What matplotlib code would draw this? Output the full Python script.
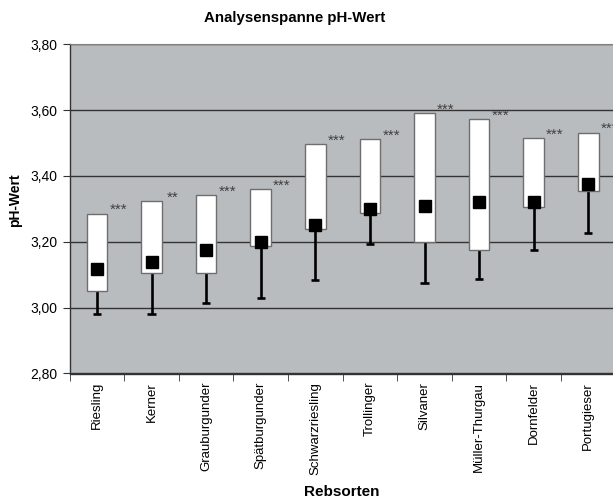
import matplotlib
matplotlib.use("Agg")
import matplotlib.pyplot as plt
from matplotlib.ticker import FixedLocator, FuncFormatter

plt.rcParams['font.family'] = ['Liberation Sans', 'DejaVu Sans']

categories = ["Riesling", "Kerner", "Grauburgunder", "Spätburgunder", "Schwarzriesling",
              "Trollinger", "Silvaner", "Müller-Thurgau", "Dornfelder", "Portugieser"]
box_high = [3.286, 3.325, 3.342, 3.361, 3.497, 3.512, 3.591, 3.572, 3.514, 3.532]
box_low = [3.051, 3.106, 3.104, 3.186, 3.240, 3.289, 3.198, 3.174, 3.307, 3.354]
mean_val = [3.117, 3.138, 3.175, 3.198, 3.250, 3.301, 3.308, 3.322, 3.322, 3.375]
min_val = [2.981, 2.981, 3.015, 3.030, 3.084, 3.192, 3.076, 3.086, 3.176, 3.227]
signif = ["***", "**", "***", "***", "***", "***", "***", "***", "***", "***"]
y_ticks = [2.80, 3.00, 3.20, 3.40, 3.60, 3.80]

fig = plt.figure(figsize=(6.13, 5.0), dpi=100)
ax = fig.add_axes([69.6 / 613, (500 - 373.5) / 500, 546 / 613, (373.5 - 44.3) / 500])
ax.set_facecolor('#B9BCBF')

x = [i + 0.5 for i in range(len(categories))]
heights = [h - l for h, l in zip(box_high, box_low)]

ax.vlines(x, min_val, box_low, color='black', lw=1.9, zorder=2)
ax.hlines(min_val, [xi - 0.075 for xi in x], [xi + 0.075 for xi in x], color='black', lw=1.9, zorder=2)
ax.bar(x, heights, bottom=box_low, width=0.38, color='white', edgecolor='#6e6e6e', linewidth=1.0, zorder=3)
ax.plot(x, mean_val, ls='none', marker='s', ms=9, color='black', zorder=4)

for xi, hi, s in zip(x, box_high, signif):
    ax.text(xi + 0.39, hi + 0.010, s, ha='center', va='center', fontsize=11, color='#404040', zorder=5, clip_on=False)

ax.set_xlim(0, 10)
ax.set_ylim(2.80, 3.80)
ax.yaxis.set_major_locator(FixedLocator(y_ticks))
ax.yaxis.set_major_formatter(FuncFormatter(lambda v, p: f"{v:.2f}".replace('.', ',')))
ax.yaxis.grid(True, color='#333333', lw=1.0)
ax.set_axisbelow(True)

ax.set_xticks(x)
ax.set_xticklabels(categories, rotation=90, fontsize=9.5)
ax.set_xticks(range(0, 11), minor=True)
ax.tick_params(axis='x', which='major', length=0, pad=6)
ax.tick_params(axis='x', which='minor', length=5, direction='out', color='#333333')
ax.tick_params(axis='y', length=5, direction='out', color='#333333', labelsize=10, pad=4)

for side in ['left', 'bottom']:
    ax.spines[side].set_color('#333333')
    ax.spines[side].set_linewidth(1.0)
ax.spines['top'].set_color('#808080')
ax.spines['right'].set_visible(False)

fig.text(295 / 613, 1 - 18 / 500, "Analysenspanne pH-Wert", ha='center', va='center', fontsize=10.8, fontweight='bold')
fig.text(15 / 613, 1 - 200 / 500, "pH-Wert", ha='center', va='center', rotation=90, fontsize=10, fontweight='bold')
fig.text(342 / 613, 1 - 492 / 500, "Rebsorten", ha='center', va='center', fontsize=11, fontweight='bold')

fig.savefig("out.png", dpi=100)
